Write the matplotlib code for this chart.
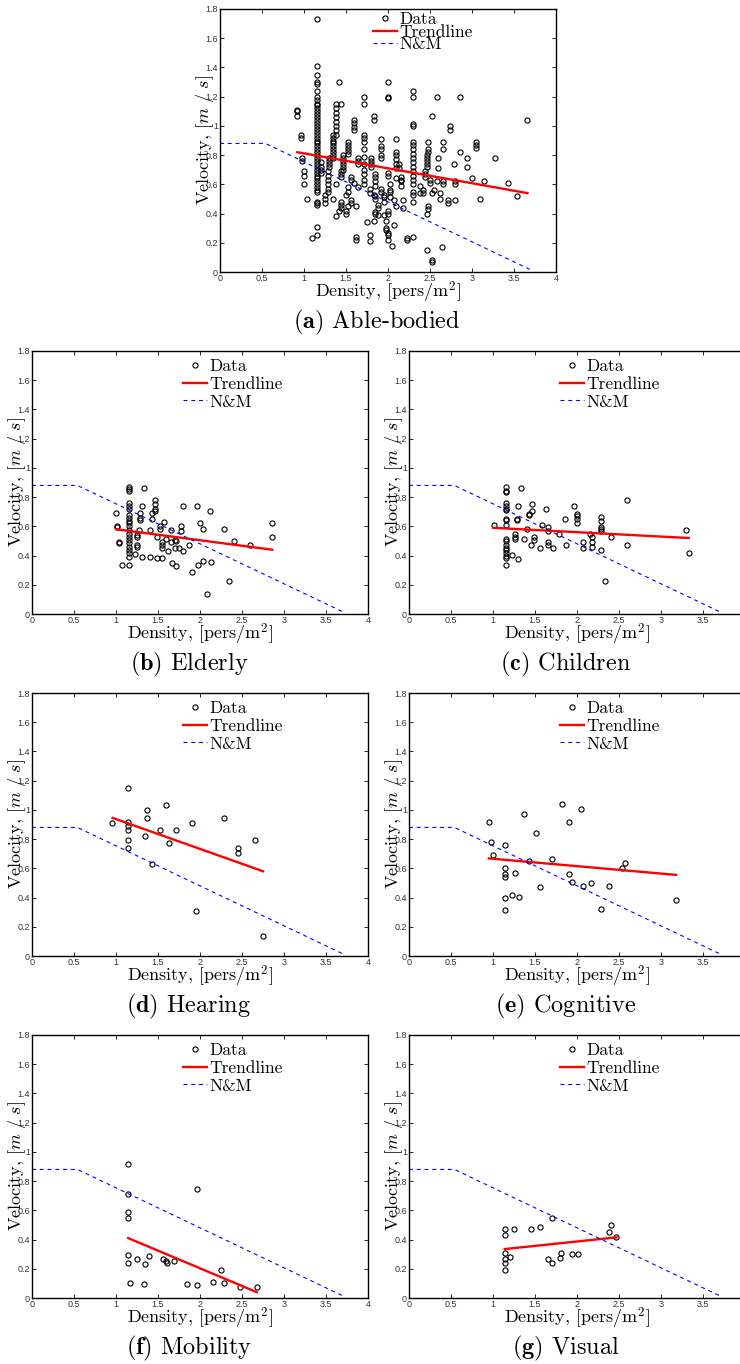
import matplotlib.pyplot as plt
from matplotlib.ticker import MultipleLocator, FormatStrFormatter

plt.rcParams['font.family'] = 'cmr10'
plt.rcParams['mathtext.fontset'] = 'cm'
plt.rcParams['axes.formatter.use_mathtext'] = True

# Nelson & Mowrer reference curve (same in every panel)
nm_density = [0.0, 0.54, 3.7]
nm_speed = [0.88, 0.88, 0.015]

able_cols = [
    (0.92, [1.11, 1.10, 1.07]),
    (0.96, [0.94, 0.92]),
    (0.98, [0.78, 0.76]),
    (1.00, [0.69, 0.66, 0.60]),
    (1.04, [0.50]),
    (1.10, [0.23]),
    (1.15, [1.73, 1.41, 1.35, 1.30, 1.29, 1.24, 1.20, 1.18, 1.15, 1.14, 1.12, 1.10,
            1.08, 1.06, 1.04, 1.02, 1.00, 0.98, 0.96, 0.94, 0.92, 0.90, 0.88, 0.86,
            0.84, 0.82, 0.80, 0.78, 0.76, 0.74, 0.72, 0.70, 0.68, 0.66, 0.64, 0.62,
            0.60, 0.58, 0.56, 0.55, 0.48, 0.47, 0.46, 0.31, 0.25]),
    (1.20, [0.75, 0.72, 0.70, 0.68]),
    (1.25, [0.53, 0.50, 0.47]),
    (1.28, [0.69, 0.66, 0.63, 0.60, 0.57, 0.55]),
    (1.30, [0.78, 0.76, 0.74, 0.72]),
    (1.34, [0.94, 0.92, 0.90, 0.88, 0.86, 0.84, 0.82, 0.80, 0.78]),
    (1.35, [0.50]),
    (1.38, [1.15, 1.12, 1.09, 1.06, 1.03, 1.00, 0.97, 0.94, 0.60, 0.38]),
    (1.42, [1.30, 0.42]),
    (1.44, [1.15, 0.69, 0.67, 0.65, 0.48, 0.46, 0.44]),
    (1.47, [0.80, 0.78, 0.76, 0.74, 0.72, 0.70]),
    (1.50, [0.53, 0.42, 0.40]),
    (1.52, [0.89, 0.87, 0.85, 0.83, 0.81, 0.58, 0.55, 0.45]),
    (1.56, [0.65, 0.63, 0.49, 0.47]),
    (1.60, [1.04, 1.02, 0.99, 0.97, 0.61]),
    (1.62, [0.45, 0.24, 0.22]),
    (1.64, [0.78, 0.76, 0.74, 0.58]),
    (1.72, [1.20, 1.15, 0.94, 0.92, 0.89, 0.84, 0.79, 0.74, 0.70, 0.67, 0.63, 0.60]),
    (1.75, [0.34]),
    (1.78, [0.57, 0.54, 0.25, 0.21]),
    (1.80, [0.78, 0.76, 0.74, 0.72]),
    (1.83, [1.07, 1.04, 0.53, 0.35]),
    (1.85, [0.67, 0.65, 0.62, 0.59, 0.52, 0.50, 0.41, 0.40]),
    (1.88, [0.46, 0.44, 0.39]),
    (1.92, [0.91, 0.86, 0.84, 0.80, 0.78, 0.57, 0.55]),
    (1.95, [0.53, 0.51, 0.48, 0.39]),
    (1.98, [0.35, 0.30, 0.29]),
    (2.00, [1.30, 1.20, 1.19, 0.68, 0.66, 0.42, 0.40, 0.27, 0.25, 0.22]),
    (2.02, [0.60, 0.56, 0.55, 0.51]),
    (2.05, [0.18]),
    (2.07, [0.49, 0.32]),
    (2.10, [0.91, 0.82, 0.80, 0.77, 0.74, 0.71, 0.64, 0.45]),
    (2.13, [0.74, 0.71]),
    (2.15, [0.65, 0.63, 0.62, 0.59]),
    (2.18, [0.49, 0.44]),
    (2.23, [0.23, 0.22]),
    (2.30, [1.24, 1.20, 1.01, 1.00, 0.89, 0.87, 0.84, 0.81, 0.78, 0.75, 0.72, 0.69,
            0.66, 0.63, 0.60, 0.55, 0.53, 0.48, 0.24]),
    (2.38, [0.59, 0.54]),
    (2.42, [0.56, 0.54]),
    (2.44, [0.69, 0.67, 0.65]),
    (2.46, [0.80, 0.78, 0.76, 0.74, 0.72, 0.40, 0.15]),
    (2.48, [0.89, 0.84, 0.82, 0.45, 0.43]),
    (2.50, [0.63, 0.61]),
    (2.52, [1.07, 0.54, 0.08, 0.07]),
    (2.55, [0.56]),
    (2.58, [1.20, 0.62]),
    (2.60, [0.78, 0.71]),
    (2.62, [0.54, 0.50]),
    (2.64, [0.17]),
    (2.66, [0.89, 0.84, 0.62, 0.60]),
    (2.71, [0.49, 0.47]),
    (2.74, [1.00, 0.97]),
    (2.78, [0.74]),
    (2.80, [0.62, 0.60, 0.49]),
    (2.86, [1.20, 0.82]),
    (2.94, [0.78, 0.72]),
    (3.00, [0.64]),
    (3.05, [0.89, 0.87, 0.85]),
    (3.09, [0.50]),
    (3.14, [0.62]),
    (3.27, [0.78]),
    (3.43, [0.61]),
    (3.54, [0.52]),
    (3.66, [1.04]),
]
able_x = [d for d, vs in able_cols for v in vs]
able_y = [v for d, vs in able_cols for v in vs]
able_trend_x = [0.92, 3.66]
able_trend_y = [0.82, 0.54]

# (b) elderly
eld_x = [1.00, 1.01, 1.01, 1.03, 1.03, 1.07,
         1.15, 1.15, 1.15, 1.15, 1.15, 1.15, 1.15, 1.15, 1.15, 1.15, 1.15,
         1.15, 1.15, 1.15, 1.15, 1.15, 1.15, 1.15, 1.15, 1.15, 1.15,
         1.23, 1.25, 1.25, 1.25, 1.25, 1.27, 1.28, 1.28, 1.28, 1.31, 1.31, 1.33,
         1.40, 1.40, 1.43, 1.43, 1.47, 1.47, 1.47, 1.47, 1.49, 1.49, 1.52, 1.52,
         1.55, 1.55, 1.55, 1.55, 1.57, 1.60, 1.62, 1.65, 1.65, 1.67, 1.70, 1.70,
         1.72, 1.72, 1.75, 1.77, 1.77, 1.80, 1.80, 1.87, 1.90, 1.96, 1.98, 2.00,
         2.03, 2.04, 2.08, 2.12, 2.13, 2.28, 2.34, 2.40, 2.60, 2.86, 2.86]
eld_y = [0.69, 0.60, 0.595, 0.49, 0.485, 0.335,
         0.87, 0.855, 0.84, 0.76, 0.74, 0.72, 0.68, 0.655, 0.635, 0.62, 0.60,
         0.575, 0.55, 0.53, 0.505, 0.485, 0.46, 0.44, 0.415, 0.39, 0.335,
         0.41, 0.54, 0.53, 0.47, 0.46, 0.575, 0.69, 0.655, 0.64, 0.74, 0.39, 0.865,
         0.575, 0.39, 0.69, 0.65, 0.78, 0.755, 0.72, 0.705, 0.53, 0.38, 0.60, 0.585,
         0.495, 0.475, 0.455, 0.38, 0.63, 0.51, 0.43, 0.575, 0.495, 0.35, 0.505, 0.45,
         0.50, 0.33, 0.455, 0.60, 0.565, 0.74, 0.43, 0.475, 0.285, 0.74, 0.335, 0.62,
         0.585, 0.365, 0.135, 0.705, 0.355, 0.585, 0.225, 0.50, 0.47, 0.62, 0.53]
eld_trend_x = [1.00, 2.86]
eld_trend_y = [0.58, 0.44]

# (c) children
chi_x = [1.01,
         1.15, 1.15, 1.15, 1.15, 1.15, 1.15, 1.15, 1.15, 1.15, 1.15, 1.15,
         1.15, 1.15, 1.15, 1.15, 1.15, 1.15, 1.15, 1.15,
         1.23, 1.26, 1.26, 1.26, 1.28, 1.28, 1.30, 1.30, 1.33, 1.37, 1.40,
         1.43, 1.43, 1.45, 1.47, 1.47, 1.49, 1.49, 1.56, 1.58, 1.63, 1.65, 1.65,
         1.66, 1.66, 1.71, 1.78, 1.86, 1.87, 1.96, 2.00, 2.00, 2.00, 2.00,
         2.07, 2.07, 2.16, 2.18, 2.18, 2.18, 2.28, 2.28, 2.28, 2.28, 2.28, 2.28,
         2.33, 2.40, 2.60, 2.60, 3.30, 3.33]
chi_y = [0.61,
         0.87, 0.84, 0.835, 0.76, 0.74, 0.72, 0.71, 0.65, 0.64, 0.61, 0.515,
         0.50, 0.47, 0.455, 0.435, 0.42, 0.40, 0.385, 0.335,
         0.405, 0.545, 0.53, 0.51, 0.65, 0.64, 0.74, 0.375, 0.865, 0.51, 0.585,
         0.685, 0.675, 0.475, 0.755, 0.705, 0.53, 0.505, 0.455, 0.61, 0.72, 0.595, 0.57,
         0.495, 0.47, 0.45, 0.545, 0.65, 0.475, 0.74, 0.685, 0.67, 0.65, 0.62,
         0.495, 0.455, 0.55, 0.53, 0.49, 0.46, 0.665, 0.635, 0.595, 0.58, 0.57, 0.44,
         0.225, 0.53, 0.78, 0.47, 0.575, 0.42]
chi_trend_x = [1.00, 3.33]
chi_trend_y = [0.59, 0.52]

# (d) hearing
hea_x = [0.95, 1.145, 1.145, 1.145, 1.145, 1.145, 1.145, 1.34, 1.37, 1.37, 1.43,
         1.52, 1.60, 1.63, 1.71, 1.90, 1.95, 2.29, 2.45, 2.45, 2.66, 2.75]
hea_y = [0.91, 1.15, 0.915, 0.89, 0.865, 0.795, 0.74, 0.82, 1.00, 0.945, 0.63,
         0.865, 1.035, 0.775, 0.865, 0.91, 0.305, 0.945, 0.74, 0.705, 0.795, 0.14]
hea_trend_x = [0.96, 2.75]
hea_trend_y = [0.945, 0.58]

# (e) cognitive
cog_x = [0.95, 0.975, 0.995, 1.14, 1.14, 1.14, 1.14, 1.14, 1.14, 1.23, 1.265,
         1.31, 1.365, 1.425, 1.515, 1.555, 1.705, 1.82, 1.90, 1.90, 1.94, 2.05,
         2.07, 2.17, 2.28, 2.38, 2.53, 2.57, 3.18]
cog_y = [0.915, 0.78, 0.69, 0.76, 0.60, 0.56, 0.54, 0.40, 0.315, 0.42, 0.565,
         0.405, 0.97, 0.65, 0.845, 0.475, 0.665, 1.04, 0.915, 0.56, 0.505, 1.005,
         0.48, 0.50, 0.32, 0.48, 0.60, 0.635, 0.385]
cog_trend_x = [0.95, 3.18]
cog_trend_y = [0.668, 0.555]

# (f) mobility
mob_x = [1.145, 1.145, 1.145, 1.145, 1.145, 1.145, 1.165, 1.255, 1.335, 1.35,
         1.395, 1.56, 1.60, 1.61, 1.69, 1.85, 1.96, 1.96, 2.15, 2.25, 2.29,
         2.48, 2.675]
mob_y = [0.915, 0.71, 0.59, 0.545, 0.295, 0.24, 0.105, 0.265, 0.095, 0.235,
         0.285, 0.27, 0.255, 0.24, 0.255, 0.095, 0.745, 0.087, 0.107, 0.19, 0.10,
         0.075, 0.075]
mob_trend_x = [1.145, 2.675]
mob_trend_y = [0.41, 0.04]

# (g) visual
vis_x = [1.14, 1.14, 1.14, 1.14, 1.14, 1.14, 1.20, 1.245, 1.45, 1.555, 1.655,
         1.705, 1.705, 1.80, 1.81, 1.945, 2.01, 2.38, 2.40, 2.47]
vis_y = [0.47, 0.43, 0.305, 0.27, 0.24, 0.19, 0.28, 0.475, 0.47, 0.485, 0.265,
         0.24, 0.545, 0.275, 0.31, 0.30, 0.30, 0.45, 0.50, 0.42]
vis_trend_x = [1.14, 2.47]
vis_trend_y = [0.335, 0.415]

W, H = 740, 1364
AW, AH = 336, 263

fig = plt.figure(figsize=(W / 100, H / 100), dpi=100)


def panel(left, top, px, py, tx, ty, caption, compact=False):
    ax = fig.add_axes([left / W, 1 - (top + AH) / H, AW / W, AH / H])
    ax.plot(px, py, 'o', mfc='none', mec='k', ms=3.7, mew=0.8, ls='none', label='Data')
    ax.plot(tx, ty, color='red', lw=1.7, label='Trendline')
    ax.plot(nm_density, nm_speed, '--', color='blue', lw=0.8, dashes=(3.5, 3.5), label='N&M')
    ax.set_xlim(0, 4)
    ax.set_ylim(0, 1.8)
    ax.xaxis.set_major_locator(MultipleLocator(0.5))
    ax.yaxis.set_major_locator(MultipleLocator(0.2))
    ax.xaxis.set_major_formatter(FormatStrFormatter('%g'))
    ax.yaxis.set_major_formatter(FormatStrFormatter('%g'))
    ax.tick_params(direction='in', top=True, right=True, length=3, width=0.6,
                   labelsize=6.5, labelfontfamily='Liberation Sans', labelcolor='#333333', pad=1.5)
    for s in ax.spines.values():
        s.set_linewidth(1.0)
    ax.set_xlabel(r'Density, $[\mathrm{pers/m}^2]$', fontsize=13, va='center')
    ax.xaxis.set_label_coords(0.5, -20 / AH)
    ax.set_ylabel(r'Velocity, $[m\ /\ s]$', fontsize=13, va='center', ha='center')
    ax.yaxis.set_label_coords(-15 / AW, 0.5)
    if compact:
        ax.legend(loc='upper left', bbox_to_anchor=(0.455, 0.988), frameon=False, fontsize=12.5,
                  handlelength=1.4, handletextpad=0.15, labelspacing=-0.18, borderpad=0,
                  borderaxespad=0, numpoints=1)
    else:
        ax.legend(loc='upper left', bbox_to_anchor=(0.449, 0.972), frameon=False, fontsize=12.5,
                  handlelength=1.4, handletextpad=0.15, labelspacing=0.15, borderpad=0,
                  borderaxespad=0, numpoints=1)
    fig.text((left + AW / 2 - 11) / W, 1 - (top + AH + 50) / H, caption,
             ha='center', va='center', fontsize=17.5)
    return ax


panel(220, 9, able_x, able_y, able_trend_x, able_trend_y, r'$\mathbf{(a)}$ Able-bodied', compact=True)
panel(32, 351, eld_x, eld_y, eld_trend_x, eld_trend_y, r'$\mathbf{(b)}$ Elderly')
panel(409, 351, chi_x, chi_y, chi_trend_x, chi_trend_y, r'$\mathbf{(c)}$ Children')
panel(32, 693, hea_x, hea_y, hea_trend_x, hea_trend_y, r'$\mathbf{(d)}$ Hearing')
panel(409, 693, cog_x, cog_y, cog_trend_x, cog_trend_y, r'$\mathbf{(e)}$ Cognitive')
panel(32, 1035, mob_x, mob_y, mob_trend_x, mob_trend_y, r'$\mathbf{(f)}$ Mobility')
panel(409, 1035, vis_x, vis_y, vis_trend_x, vis_trend_y, r'$\mathbf{(g)}$ Visual')

fig.savefig('out.png', dpi=100)
